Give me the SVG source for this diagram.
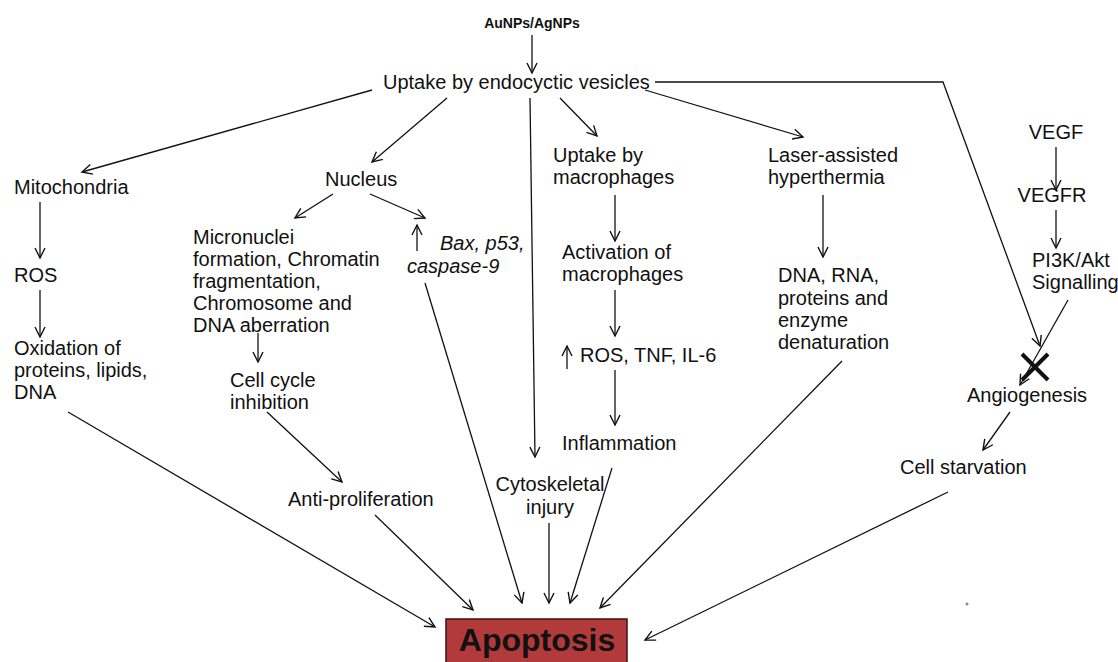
<svg xmlns="http://www.w3.org/2000/svg" width="1118" height="662" viewBox="0 0 1118 662">
<defs>
<marker id="ah" markerUnits="userSpaceOnUse" markerWidth="14" markerHeight="14" refX="11" refY="6" orient="auto">
<path d="M1,1 L11,6 L1,11" fill="none" stroke="#111" stroke-width="1.4"/>
</marker>
<style>
text{font-family:"Liberation Sans",Arial,sans-serif;font-size:20px;fill:#111}
.it{font-style:italic}
.c{text-anchor:middle}
.b{font-weight:bold}
.ln{stroke:#111;stroke-width:1.3;fill:none}
.ar{marker-end:url(#ah)}
</style>
</defs>
<rect width="1118" height="662" fill="#fff"/>
<g id="connectors">
<line class="ln ar" x1="532" y1="35" x2="532" y2="73"/>
<line class="ln ar" x1="372" y1="90" x2="82" y2="172"/>
<line class="ln ar" x1="447" y1="98" x2="372" y2="162"/>
<line class="ln ar" x1="530" y1="98" x2="535" y2="457"/>
<line class="ln ar" x1="560" y1="98" x2="597" y2="136"/>
<line class="ln ar" x1="645" y1="90" x2="803" y2="137"/>
<polyline class="ln ar" points="655,82 943,82 1040,346"/>
<line class="ln ar" x1="40" y1="202" x2="40" y2="258"/>
<line class="ln ar" x1="40" y1="290" x2="40" y2="337"/>
<line class="ln ar" x1="68" y1="412" x2="435" y2="627"/>
<line class="ln ar" x1="333" y1="194" x2="295" y2="218"/>
<line class="ln ar" x1="370" y1="194" x2="425" y2="218"/>
<line class="ln ar" x1="417" y1="251" x2="417" y2="225"/>
<line class="ln ar" x1="258" y1="333" x2="258" y2="362"/>
<line class="ln ar" x1="267" y1="412" x2="342" y2="482"/>
<line class="ln ar" x1="375" y1="515" x2="473" y2="610"/>
<line class="ln ar" x1="425" y1="283" x2="522" y2="603"/>
<line class="ln ar" x1="615" y1="195" x2="615" y2="241"/>
<line class="ln ar" x1="615" y1="290" x2="615" y2="336"/>
<line class="ln ar" x1="567" y1="369" x2="567" y2="346"/>
<line class="ln ar" x1="615" y1="370" x2="615" y2="425"/>
<line class="ln ar" x1="612" y1="468" x2="570" y2="603"/>
<line class="ln ar" x1="549" y1="523" x2="549" y2="603"/>
<line class="ln ar" x1="823" y1="195" x2="823" y2="257"/>
<line class="ln ar" x1="842" y1="361" x2="600" y2="608"/>
<line class="ln ar" x1="1056" y1="147" x2="1056" y2="190"/>
<line class="ln ar" x1="1056" y1="210" x2="1056" y2="248"/>
<line class="ln ar" x1="1068" y1="300" x2="1020" y2="385"/>
<line class="ln ar" x1="1010" y1="412" x2="983" y2="450"/>
<line class="ln ar" x1="948" y1="492" x2="645" y2="640"/>
<path d="M1022,354 L1048,380 M1048,354 L1022,380" stroke="#111" stroke-width="4" fill="none"/>
</g>
<g id="n-aunps"><text class="c b" x="532" y="28" font-size="14" style="font-size:14px">AuNPs/AgNPs</text></g>
<g id="n-uptake"><text x="383" y="89">Uptake by endocyctic vesicles</text></g>
<g id="n-mito"><text x="14" y="194">Mitochondria</text></g>
<g id="n-ros"><text x="14" y="282">ROS</text></g>
<g id="n-oxid"><text x="14" y="355">Oxidation of</text><text x="14" y="377">proteins, lipids,</text><text x="14" y="399">DNA</text></g>
<g id="n-nucleus"><text x="325" y="186">Nucleus</text></g>
<g id="n-micro"><text x="193" y="244">Micronuclei</text><text x="193" y="266">formation, Chromatin</text><text x="193" y="288">fragmentation,</text><text x="193" y="310">Chromosome and</text><text x="193" y="332">DNA aberration</text></g>
<g id="n-cellcycle"><text x="230" y="387">Cell cycle</text><text x="230" y="409">inhibition</text></g>
<g id="n-antiprolif"><text x="288" y="506">Anti-proliferation</text></g>
<g id="n-bax"><text class="it" x="440" y="250">Bax, p53,</text><text class="it" x="407" y="273">caspase-9</text></g>
<g id="n-uptakemac"><text x="553" y="162">Uptake by</text><text x="553" y="184">macrophages</text></g>
<g id="n-activation"><text x="562" y="259">Activation of</text><text x="562" y="281">macrophages</text></g>
<g id="n-rostnf"><text x="580" y="362">ROS, TNF, IL-6</text></g>
<g id="n-inflam"><text x="562" y="450">Inflammation</text></g>
<g id="n-cyto"><text class="c" x="550" y="491">Cytoskeletal</text><text class="c" x="550" y="514">injury</text></g>
<g id="n-laser"><text x="768" y="162">Laser-assisted</text><text x="768" y="184">hyperthermia</text></g>
<g id="n-denat"><text x="778" y="282">DNA, RNA,</text><text x="778" y="305">proteins and</text><text x="778" y="327">enzyme</text><text x="778" y="349">denaturation</text></g>
<g id="n-vegf"><text class="c" x="1056" y="139">VEGF</text></g>
<g id="n-vegfr"><text class="c" x="1052" y="202">VEGFR</text></g>
<g id="n-pi3k"><text x="1032" y="267">PI3K/Akt</text><text x="1032" y="289">Signalling</text></g>
<g id="n-angio"><text x="967" y="402">Angiogenesis</text></g>
<g id="n-starv"><text x="900" y="474">Cell starvation</text></g>
<g id="n-apoptosis"><rect x="446" y="619" width="181" height="50" fill="#b23a3a" stroke="#3a1515" stroke-width="1.5"/><text class="c b" x="537" y="651" style="font-size:32px">Apoptosis</text></g>
<circle cx="967" cy="604" r="1.5" fill="#888"/>
</svg>
